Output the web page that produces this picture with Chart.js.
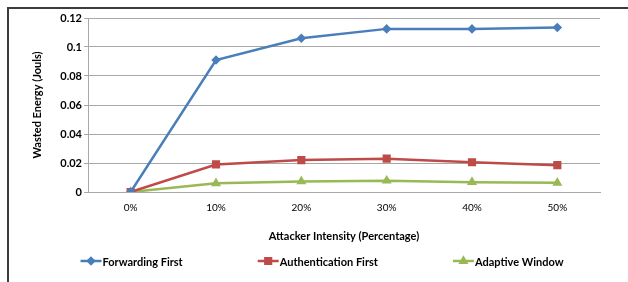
<!DOCTYPE html>
<html>
<head>
<meta charset="utf-8">
<script src="https://cdn.jsdelivr.net/npm/chart.js@4"></script>
<style>
  html, body { margin: 0; padding: 0; background: #fff; }
  #wrap { position: relative; width: 628px; height: 282px; overflow: hidden; }
  #frame { position: absolute; left: 7px; top: 7px; width: 700px; height: 400px; border: 2px solid #3c3c3c; box-sizing: border-box; }
  canvas { position: absolute; left: 0; top: 0; }
</style>
</head>
<body>
<div id="wrap">
  <div id="frame"></div>
  <canvas id="chart" width="628" height="282"></canvas>
</div>
<script>
// data
const categories = ['0%', '10%', '20%', '30%', '40%', '50%'];
const forwardingFirst = [0, 0.091, 0.106, 0.1125, 0.1125, 0.1135];
const authenticationFirst = [0, 0.019, 0.022, 0.023, 0.0205, 0.0185];
const adaptiveWindow = [0, 0.006, 0.0073, 0.0078, 0.0068, 0.0063];

const FONT = "Lato, 'Open Sans', sans-serif";
const GRID = '#a8a8a8';

// legend: line + marker + label, spread like the Excel one
const lineLegend = {
  id: 'lineLegend',
  afterDraw(chart) {
    const ctx = chart.ctx;
    const sets = chart.data.datasets;
    const gap = 75, lineW = 21, y = 261;
    ctx.save();
    ctx.font = 'bold 11px ' + FONT;
    const widths = sets.map(ds => lineW + 1 + ctx.measureText(ds.label).width);
    const total = widths.reduce((a, b) => a + b, 0) + gap * (sets.length - 1);
    let x = 322 - total / 2;
    sets.forEach((ds, i) => {
      ctx.strokeStyle = ds.borderColor;
      ctx.lineWidth = 2.5;
      ctx.beginPath();
      ctx.moveTo(x, y);
      ctx.lineTo(x + lineW, y);
      ctx.stroke();
      ctx.fillStyle = ds.pointBackgroundColor;
      ctx.strokeStyle = ds.pointBorderColor;
      Chart.helpers.drawPoint(ctx, { pointStyle: ds.pointStyle, radius: ds.pointRadius, rotation: 0, borderWidth: 1 }, x + lineW / 2, y);
      ctx.fillStyle = '#000';
      ctx.textBaseline = 'middle';
      ctx.textAlign = 'left';
      ctx.fillText(ds.label, x + lineW + 1, y + 1);
      x += widths[i] + gap;
    });
    ctx.restore();
  }
};

function series(label, data, color, style, radius) {
  return {
    label: label,
    data: data,
    borderColor: color,
    backgroundColor: color,
    pointBackgroundColor: color,
    pointBorderColor: color,
    pointStyle: style,
    pointRadius: radius,
    pointHoverRadius: radius,
    borderWidth: 2.5,
    tension: 0
  };
}

new Chart(document.getElementById('chart'), {
  type: 'line',
  data: {
    labels: categories,
    datasets: [
      series('Forwarding First', forwardingFirst, '#4a7ebb', 'rectRot', 3),
      series('Authentication First', authenticationFirst, '#be4b48', 'rect', 4),
      series('Adaptive Window', adaptiveWindow, '#98b954', 'triangle', 3.3)
    ]
  },
  options: {
    responsive: false,
    animation: false,
    layout: { padding: { top: 18, right: 28, bottom: 32, left: 0 } },
    plugins: {
      legend: { display: false },
      tooltip: { enabled: false }
    },
    scales: {
      x: {
        offset: true,
        afterFit: s => { s.height = 58; },
        grid: { display: false, drawTicks: false },
        border: { color: GRID, width: 1 },
        ticks: { color: '#000', padding: 10, font: { family: FONT, size: 10 } },
        title: {
          display: true,
          text: 'Attacker Intensity (Percentage)',
          color: '#000',
          padding: { top: 0, bottom: 7 },
          font: { family: FONT, size: 11, weight: 'bold' }
        }
      },
      y: {
        min: 0,
        max: 0.12,
        afterFit: s => { s.width = 88; },
        grid: { color: GRID, tickLength: 4, lineWidth: 1 },
        border: { color: GRID, width: 1 },
        ticks: {
          stepSize: 0.02,
          padding: 2,
          color: '#000',
          font: { family: FONT, size: 11, weight: 'bold' },
          callback: v => String(Math.round(v * 100) / 100)
        },
        title: {
          display: true,
          text: 'Wasted Energy (Jouls)',
          color: '#000',
          padding: { top: 31, bottom: 0 },
          font: { family: FONT, size: 11, weight: 'bold' }
        }
      }
    }
  },
  plugins: [lineLegend]
});
</script>
</body>
</html>
